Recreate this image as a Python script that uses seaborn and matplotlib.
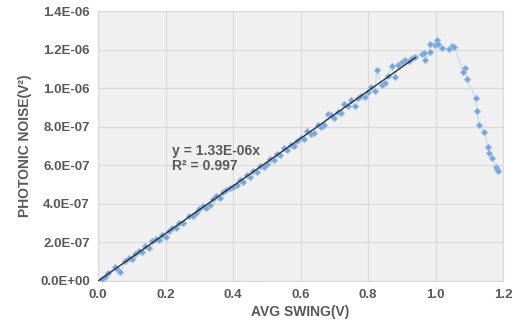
import numpy as np
import pandas as pd
import seaborn as sns
import matplotlib.pyplot as plt
from matplotlib.ticker import FuncFormatter

# avg swing (V) and photonic noise (units of 1e-7 V^2)
swing = [0.01, 0.02, 0.03, 0.05, 0.06, 0.065, 0.08, 0.09, 0.10, 0.11, 0.12, 0.13, 0.14, 0.15,
         0.16, 0.17, 0.18, 0.19, 0.20, 0.21, 0.22, 0.23, 0.24, 0.25, 0.27, 0.28, 0.29, 0.30,
         0.31, 0.32, 0.33, 0.34, 0.35, 0.36, 0.37, 0.38, 0.39, 0.40, 0.41, 0.42, 0.43, 0.44,
         0.45, 0.46, 0.47, 0.48, 0.49, 0.50, 0.51, 0.52, 0.53, 0.54, 0.55, 0.56, 0.57, 0.58,
         0.59, 0.60, 0.61, 0.62, 0.63, 0.64, 0.65, 0.66, 0.67, 0.68, 0.69, 0.70, 0.71, 0.72,
         0.73, 0.74, 0.75, 0.76, 0.77, 0.78, 0.79, 0.80, 0.81, 0.82, 0.826, 0.84, 0.85, 0.86,
         0.87, 0.88, 0.89, 0.90, 0.91, 0.92, 0.93, 0.94,
         0.959, 0.966, 0.970, 0.982, 0.984, 0.999, 1.005, 1.008, 1.018, 1.041, 1.050, 1.056,
         1.082, 1.087, 1.092, 1.119, 1.122, 1.129, 1.145, 1.155, 1.159, 1.168, 1.179, 1.183, 1.186]
noise_e7 = [0.10, 0.22, 0.40, 0.70, 0.55, 0.48, 1.05, 1.18, 1.12, 1.40, 1.55, 1.50, 1.80, 1.72,
            2.05, 2.18, 2.12, 2.40, 2.30, 2.60, 2.75, 2.72, 3.02, 3.00, 3.35, 3.38, 3.50, 3.72,
            3.88, 3.80, 3.95, 4.25, 4.40, 4.30, 4.60, 4.72, 4.82, 4.85, 4.95, 5.25, 5.15, 5.50,
            5.40, 5.70, 5.65, 5.98, 5.90, 6.05, 6.35, 6.25, 6.60, 6.52, 6.90, 6.78, 7.05, 6.98,
            7.25, 7.40, 7.35, 7.80, 7.62, 7.70, 8.10, 8.00, 8.10, 8.65, 8.60, 8.45, 8.75, 8.70,
            9.20, 9.10, 9.40, 9.05, 9.50, 9.60, 9.55, 9.80, 10.05, 9.85, 10.95, 10.15, 10.25, 10.65,
            11.15, 10.60, 11.20, 11.35, 11.45, 11.40, 11.55, 11.60,
            11.76, 11.80, 11.45, 11.86, 12.31, 12.24, 12.48, 12.28, 12.10, 12.03, 12.17, 12.14,
            10.84, 11.07, 10.46, 9.51, 8.82, 8.10, 7.73, 6.93, 6.65, 6.36, 5.89, 5.80, 5.71]
fit_max = 0.95  # trendline fitted over the linear part only

df = pd.DataFrame({'swing': swing, 'noise': np.array(noise_e7) * 1e-7})
lin = df[df.swing <= fit_max]
slope = (lin.swing * lin.noise).sum() / (lin.swing ** 2).sum()
trend = pd.DataFrame({'swing': [0.0, lin.swing.max()]})
trend['noise'] = slope * trend.swing

sns.set_style('white')
plt.rcParams['font.family'] = ['Liberation Sans', 'DejaVu Sans']
grey = '#595959'

fig = plt.figure(figsize=(5.17, 3.36), dpi=100)
ax = fig.add_axes([0.19, 0.164, 0.783, 0.803])

# faint white-to-grey gradient in the plot area (grey only near the bottom)
grad = np.linspace(0, 1, 100).reshape(-1, 1) ** 1.5
ax.imshow(grad, extent=[0, 1.2, 0, 1.4e-6], aspect='auto', cmap=sns.light_palette('#f0f0f0', as_cmap=True),
          origin='upper', zorder=0)

sns.lineplot(data=df, x='swing', y='noise', sort=False, color='#c5dcf0', lw=0.9, ax=ax, zorder=2)
sns.scatterplot(data=df, x='swing', y='noise', marker='D', s=11, color='#76a5dc', edgecolor='#9dbfe8',
                linewidth=0.5, ax=ax, zorder=3)
sns.lineplot(data=trend, x='swing', y='noise', color='#262626', lw=0.9, ax=ax, zorder=4)

ax.set_xlim(0, 1.2)
ax.set_ylim(0, 1.4e-6)
ax.set_xticks(np.arange(0, 1.21, 0.2))
ax.set_yticks(np.arange(0, 1.41e-6, 0.2e-6))
ax.xaxis.set_major_formatter(FuncFormatter(lambda v, p: f'{v:.1f}'))
ax.yaxis.set_major_formatter(FuncFormatter(lambda v, p: f'{v:.1E}'))
ax.grid(True, color='#d9d9d9', lw=0.8)
ax.set_axisbelow(True)
for s in ax.spines.values():
    s.set_color('#d9d9d9')
    s.set_linewidth(0.8)
ax.tick_params(length=0, pad=6)
for lab in ax.get_xticklabels() + ax.get_yticklabels():
    lab.set_fontweight('bold')
    lab.set_fontsize(9.5)
    lab.set_color(grey)

ax.set_xlabel('AVG SWING(V)', fontsize=10, fontweight='bold', color=grey, labelpad=3)
ax.set_ylabel('PHOTONIC NOISE(V²)', fontsize=10, fontweight='bold', color=grey, labelpad=6)

ax.text(0.22, 6.75e-7, 'y = 1.33E-06x', fontsize=10, fontweight='bold', color=grey, va='center')
ax.text(0.22, 5.95e-7, 'R² = 0.997', fontsize=10, fontweight='bold', color=grey, va='center')

fig.savefig('out.png', dpi=100)
